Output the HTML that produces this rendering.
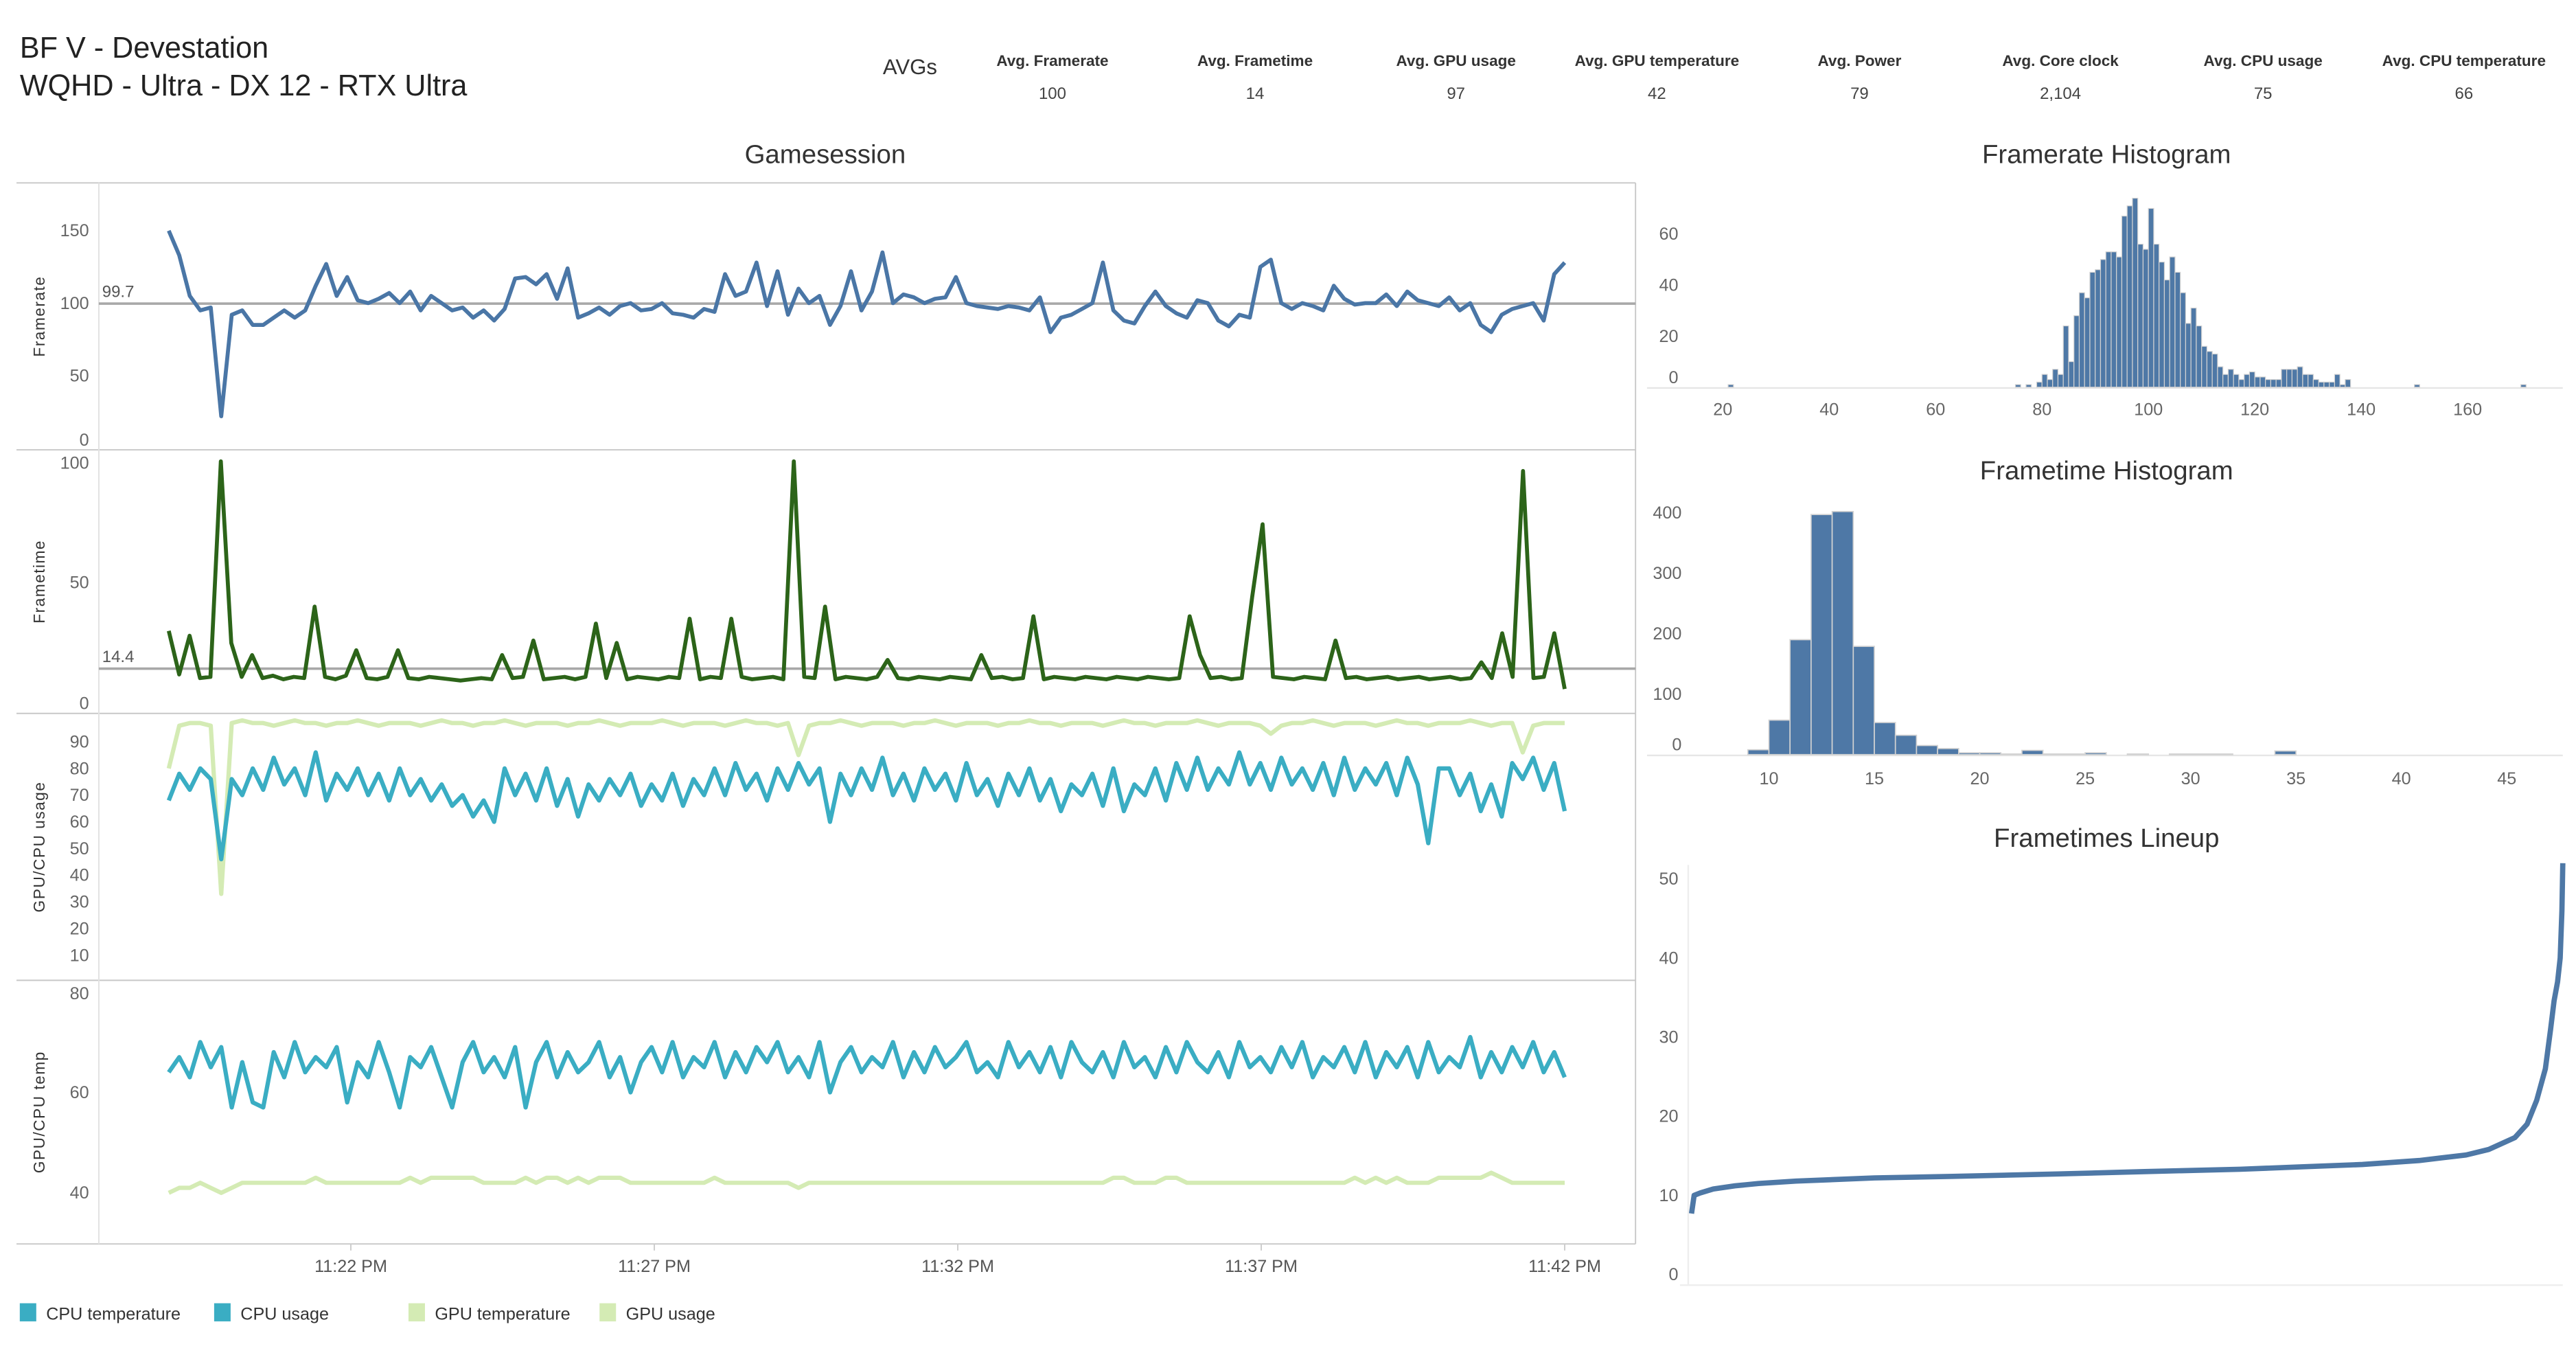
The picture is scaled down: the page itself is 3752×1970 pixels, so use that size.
<!DOCTYPE html>
<html><head><meta charset="utf-8"><style>
html,body{margin:0;padding:0;background:#fff;}
svg{display:block;font-family:"Liberation Sans Narrow","Liberation Sans",sans-serif;}
</style></head><body>
<svg id="root" width="3752" height="1970" viewBox="0 0 1564 821.2" xmlns="http://www.w3.org/2000/svg">
<g>
<text x="12" y="35" font-size="18" fill="#222">BF V - Devestation</text>
<text x="12" y="58" font-size="18" fill="#222">WQHD - Ultra - DX 12 - RTX Ultra</text>
<text x="536" y="45" font-size="13" fill="#333">AVGs</text>
</g>
<g id="avgs"></g>
<text x="501" y="99" font-size="16" text-anchor="middle" fill="#333">Gamesession</text>
<text x="1279" y="99" font-size="16" text-anchor="middle" fill="#333">Framerate Histogram</text>
<text x="1279" y="291" font-size="16" text-anchor="middle" fill="#333">Frametime Histogram</text>
<text x="1279" y="514" font-size="16" text-anchor="middle" fill="#333">Frametimes Lineup</text>
<g id="left"></g>
<g id="fh"></g>
<g id="th"></g>
<g id="lu"></g>
<g id="legend"></g>
</svg>
<script>
const avgLabels=["Avg. Framerate","Avg. Frametime","Avg. GPU usage","Avg. GPU temperature","Avg. Power","Avg. Core clock","Avg. CPU usage","Avg. CPU temperature"];
const avgValues=["100","14","97","42","79","2,104","75","66"];
const timeStart=19.0, timeEnd=42.0;
const timeTickLabels=["11:22 PM","11:27 PM","11:32 PM","11:37 PM","11:42 PM"];
const timeTickMinutes=[22,27,32,37,42];
const framerate=[150,133,105,95,97,22,92,95,85,85,90,95,90,95,112,127,105,118,102,100,103,107,100,108,95,105,100,95,97,90,95,88,96,117,118,113,120,103,124,90,93,97,92,98,100,95,96,100,93,92,90,96,94,120,105,108,128,98,122,92,110,100,105,85,98,122,95,108,135,100,106,104,100,103,104,118,100,98,97,96,98,97,95,104,80,90,92,96,100,128,95,88,86,98,108,98,93,90,102,100,88,84,92,90,125,130,100,96,100,98,95,112,103,99,100,100,106,98,108,102,100,98,104,95,100,85,80,92,96,98,100,88,120,128];
const frametime=[30,12,28,10.5,11,100,25,11,20,10.5,11.5,10,11,10.5,40,11,10,11.5,22,10.5,10,11,22,10.5,10,11,10.5,10,9.5,10,10.5,10,20,10.5,11,26,10,10.5,11,10,11,33,10.5,25,10,11,10.5,10,11,10.5,35,10,11,10.5,35,11,10,10.5,11,10,100,11,10.5,40,10,11,10.5,10,11,18,10.5,10,11,10.5,10,11,10.5,10,20,10.5,11,10,10.5,36,10,11,10.5,10,11,10.5,10,11,10.5,10,11,10.5,10,10.5,36,20,10.5,11,10,10.5,44,74,11,10.5,10,11,10.5,10,26,10.5,11,10,10.5,11,10,10.5,11,10,10.5,11,10,10.5,17,10.5,29,11,96,10.5,11,29,6];
const ftRefValue=14.4, frRefValue=99.7;
const cpuUsage=[68,78,72,80,76,46,76,70,80,72,84,74,80,70,86,68,78,72,80,70,78,68,80,70,76,68,74,66,70,62,68,60,80,70,78,68,80,66,76,62,74,68,76,70,78,66,74,68,78,66,76,70,80,70,82,72,78,68,80,72,82,74,80,60,78,70,80,72,84,70,78,68,80,72,78,68,82,70,76,66,78,70,80,68,76,64,74,70,78,66,80,64,74,70,80,68,82,72,84,72,80,74,86,74,82,72,84,74,80,72,82,70,84,72,80,74,82,70,84,74,52,80,80,70,78,64,74,62,82,76,84,72,82,64];
const gpuUsage=[80,96,97,97,96,33,97,98,97,97,96,97,98,97,97,96,97,97,98,97,96,97,97,97,96,97,98,97,97,96,97,97,98,97,96,97,97,97,96,97,97,98,97,96,97,97,97,98,97,96,97,97,97,96,97,98,97,97,96,97,85,96,97,97,98,97,96,97,97,97,96,97,97,98,97,96,97,97,97,96,97,97,98,97,97,96,97,97,97,96,97,98,97,97,96,97,97,97,98,97,96,97,97,97,96,93,96,97,97,98,97,96,97,97,97,96,97,98,97,97,96,97,97,97,98,97,96,97,97,86,96,97,97,97];
const cpuTemp=[64,67,63,70,65,69,57,66,58,57,68,63,70,64,67,65,69,58,66,63,70,64,57,67,65,69,63,57,66,70,64,67,63,69,57,66,70,63,68,64,66,70,63,67,60,66,69,64,70,63,67,65,70,63,68,64,69,66,70,64,67,63,70,60,66,69,64,67,65,70,63,68,64,69,65,67,70,64,66,63,70,65,68,64,69,63,70,66,64,68,63,70,65,67,63,69,64,70,66,64,68,63,70,65,67,64,69,65,70,63,67,65,69,64,70,63,68,65,69,63,70,64,67,65,71,63,68,64,69,65,70,64,68,63];
const gpuTemp=[40,41,41,42,41,40,41,42,42,42,42,42,42,42,43,42,42,42,42,42,42,42,42,43,42,43,43,43,43,43,42,42,42,42,43,42,43,43,42,43,42,43,43,43,42,42,42,42,42,42,42,42,43,42,42,42,42,42,42,42,41,42,42,42,42,42,42,42,42,42,42,42,42,42,42,42,42,42,42,42,42,42,42,42,42,42,42,42,42,42,43,43,42,42,42,43,43,42,42,42,42,42,42,42,42,42,42,42,42,42,42,42,42,43,42,43,42,43,42,42,42,43,43,43,43,43,44,43,42,42,42,42,42,42];
const frTicks=[0,50,100,150];
const ftTicks=[0,50,100];
const usageTicks=[10,20,30,40,50,60,70,80,90];
const tempTicks=[40,60,80];
const frBins=[21,75,77,79,80,81,82,83,84,85,86,87,88,89,90,91,92,93,94,95,96,97,98,99,100,101,102,103,104,105,106,107,108,109,110,111,112,113,114,115,116,117,118,119,120,121,122,123,124,125,126,127,128,129,130,131,132,133,134,135,136,137,150,170];
const frCounts=[1,1,1,2,5,3,7,5,24,10,28,37,35,45,46,50,53,53,51,67,71,74,56,54,70,56,49,42,51,45,37,25,31,24,16,14,13,8,5,7,5,3,5,6,4,4,3,3,3,7,7,7,8,5,5,3,2,2,2,5,1,3,1,1];
const frXTicks=[20,40,60,80,100,120,140,160];
const frYTicks=[0,20,40,60];
const ftBins=[9,10,11,12,13,14,15,16,17,18,19,20,21,22,23,24,25,27,29,30,31,34];
const ftCounts=[8,57,190,397,402,179,53,32,15,10,3,3,1,7,1,1,3,1,1,1,1,6];
const ftXTicks=[10,15,20,25,30,35,40,45];
const ftYTicks=[0,100,200,300,400];
const luPct=[0,0.3,1,2.5,5,7.7,12,21,30,42,52,63,70,77,83.5,88.9,91.5,94.5,95.9,97,98,98.6,99,99.4,99.7,99.9,100];
const luVal=[7.7,10,10.3,10.8,11.2,11.5,11.8,12.2,12.4,12.7,13,13.3,13.6,13.9,14.4,15.1,15.8,17.3,19,22,26,31,34.6,37,40,46,52];
const luTicks=[0,10,20,30,40,50];
const legendLabels=["CPU temperature","CPU usage","GPU temperature","GPU usage"];
const legendColors=["#3aadc3","#3aadc3","#d4ebb4","#d4ebb4"];

const NS="http://www.w3.org/2000/svg";
function mk(parent,tag,attrs,text){const e=document.createElementNS(NS,tag);for(const k in attrs)e.setAttribute(k,attrs[k]);if(text!==undefined)e.textContent=text;parent.appendChild(e);return e;}

const avgG=document.getElementById('avgs');
const avgX=[639,762,884,1006,1129,1251,1374,1496];
avgLabels.forEach((l,i)=>{
 const t=mk(avgG,'text',{x:avgX[i],y:40,'font-size':9.4,'text-anchor':'middle',fill:'#333','font-weight':'bold'},l);
 
 
 const v=mk(avgG,'text',{x:avgX[i],y:60,'font-size':10,'text-anchor':'middle',fill:'#444'},avgValues[i]);
 
 
});

const L=document.getElementById('left');
const X0=213, PX_PER_MIN=36.85;
function xTime(m){return X0+(m-22)*PX_PER_MIN;}
function tAt(i,n){return timeStart+(timeEnd-timeStart)*i/(n-1);}
const panels=[
 {top:111,bot:273,y:v=>272-v*0.88,ticks:frTicks,title:'Framerate'},
 {top:273,bot:433,y:v=>427-v*1.47,ticks:ftTicks,title:'Frametime'},
 {top:433,bot:595,y:v=>434+(100-v)*1.62,ticks:usageTicks,title:'GPU/CPU usage'},
 {top:595,bot:755,y:v=>602+(80-v)*3.05,ticks:tempTicks,title:'GPU/CPU temp'}
];
[111,273,433,595,755].forEach(y=>{const l=mk(L,'line',{x1:10,x2:993,y1:y,y2:y,stroke:'#c8c8c8','stroke-width':0.8});
 
 });
const va=mk(L,'line',{x1:60,x2:60,y1:111,y2:755,stroke:'#e2e2e2','stroke-width':0.8});


const vr=mk(L,'line',{x1:993,x2:993,y1:111,y2:755,stroke:'#c8c8c8','stroke-width':0.8});


panels.forEach((p,pi)=>{
 p.ticks.forEach(v=>{let yy=p.y(v);let ty=Math.min(Math.max(yy,p.top+8),p.bot-6);
  const t=mk(L,'text',{x:54,y:ty+3.5,'font-size':10.5,'text-anchor':'end',fill:'#666'},String(v));
  
  });
 const cy=(p.top+p.bot)/2;
 const tt=mk(L,'text',{x:27,y:cy,'font-size':9.5,'text-anchor':'middle',fill:'#333','letter-spacing':'0.6',transform:`rotate(-90 27 ${cy})`},p.title);
 
 
});
function drawLine(parent,vals,yf,color,w,name){
 const d=vals.map((v,i)=>(i?'L':'M')+xTime(tAt(i,vals.length)).toFixed(2)+' '+yf(v).toFixed(2)).join(' ');
 const p=mk(parent,'path',{d:d,fill:'none',stroke:color,'stroke-width':w,'stroke-linejoin':'round'});
 
 
}
const r1=mk(L,'line',{x1:60,x2:993,y1:panels[0].y(frRefValue),y2:panels[0].y(frRefValue),stroke:'#a8a8a8','stroke-width':1.5});


const r1t=mk(L,'text',{x:62,y:panels[0].y(frRefValue)-4,'font-size':10,fill:'#555'},String(frRefValue));


const r2=mk(L,'line',{x1:60,x2:993,y1:panels[1].y(ftRefValue),y2:panels[1].y(ftRefValue),stroke:'#a8a8a8','stroke-width':1.5});


const r2t=mk(L,'text',{x:62,y:panels[1].y(ftRefValue)-4,'font-size':10,fill:'#555'},String(ftRefValue));


drawLine(L,framerate,panels[0].y,'#4a76a6',2.4,'framerate-line');
drawLine(L,frametime,v=>panels[1].y(Math.min(v,100)),'#2c6419',2.4,'frametime-line');
drawLine(L,gpuUsage,panels[2].y,'#d4ebb4',2.6,'gpu-usage-line');
drawLine(L,cpuUsage,panels[2].y,'#3aadc3',2.6,'cpu-usage-line');
drawLine(L,gpuTemp,panels[3].y,'#d4ebb4',2.6,'gpu-temperature-line');
drawLine(L,cpuTemp,panels[3].y,'#3aadc3',2.6,'cpu-temperature-line');
timeTickMinutes.forEach((m,i)=>{const x=xTime(m);
 const tk=mk(L,'line',{x1:x,x2:x,y1:755,y2:759,stroke:'#ccc','stroke-width':0.8});
 
 
 const t=mk(L,'text',{x:x,y:772,'font-size':10.5,'text-anchor':'middle',fill:'#555'},timeTickLabels[i]);
 
 });

const FH=document.getElementById('fh');
const fx=v=>1046+(v-20)*3.23, fy=c=>235-c*1.55;
const fb=mk(FH,'line',{x1:1000,x2:1556,y1:235.5,y2:235.5,stroke:'#e6e6e6','stroke-width':1});


frBins.forEach((b,i)=>{const r=mk(FH,'rect',{x:fx(b),y:fy(frCounts[i]),width:3.23,height:frCounts[i]*1.55,fill:'#4e78a6',stroke:'#d2d2d2','stroke-width':0.5});
 
 });
frXTicks.forEach(v=>{const t=mk(FH,'text',{x:fx(v),y:252,'font-size':10.5,'text-anchor':'middle',fill:'#666'},String(v));
 
 });
frYTicks.forEach(v=>{const yy=Math.min(fy(v),229);const t=mk(FH,'text',{x:1019,y:yy+3.5,'font-size':10.5,'text-anchor':'end',fill:'#666'},String(v));
 
 });

const TH=document.getElementById('th');
const tx=v=>1074+(v-10)*12.8, ty=c=>458-c*0.367;
const tb=mk(TH,'line',{x1:1000,x2:1556,y1:458.5,y2:458.5,stroke:'#e6e6e6','stroke-width':1});


ftBins.forEach((b,i)=>{const r=mk(TH,'rect',{x:tx(b),y:ty(ftCounts[i]),width:12.8,height:ftCounts[i]*0.367,fill:'#4e78a6',stroke:'#d2d2d2','stroke-width':0.7});
 
 });
ftXTicks.forEach(v=>{const t=mk(TH,'text',{x:tx(v),y:476,'font-size':10.5,'text-anchor':'middle',fill:'#666'},String(v));
 
 });
ftYTicks.forEach(v=>{const yy=Math.min(ty(v),452);const t=mk(TH,'text',{x:1021,y:yy+3.5,'font-size':10.5,'text-anchor':'end',fill:'#666'},String(v));
 
 });

const LU=document.getElementById('lu');
const lx=p=>1027+p/100*529, ly=v=>773.5-v*4.8;
const la=mk(LU,'line',{x1:1025,x2:1025,y1:525,y2:780,stroke:'#eee','stroke-width':1});


const lb=mk(LU,'line',{x1:1020,x2:1556,y1:780,y2:780,stroke:'#eee','stroke-width':1});


luTicks.forEach(v=>{const t=mk(LU,'text',{x:1019,y:ly(v)+3.5,'font-size':10.5,'text-anchor':'end',fill:'#666'},String(v));
 
 });
const lp=mk(LU,'path',{d:luPct.map((p,i)=>(i?'L':'M')+lx(p).toFixed(2)+' '+ly(luVal[i]).toFixed(2)).join(' '),fill:'none',stroke:'#4e78a6','stroke-width':3.2,'stroke-linejoin':'round'});



const LG=document.getElementById('legend');
const legX=[12,130,248,364];
legendLabels.forEach((l,i)=>{
 const r=mk(LG,'rect',{x:legX[i],y:791,width:10,height:11,fill:legendColors[i]});
 
 
 const t=mk(LG,'text',{x:legX[i]+16,y:801,'font-size':10.5,fill:'#333'},l);
 
 
});
</script>
</body></html>
